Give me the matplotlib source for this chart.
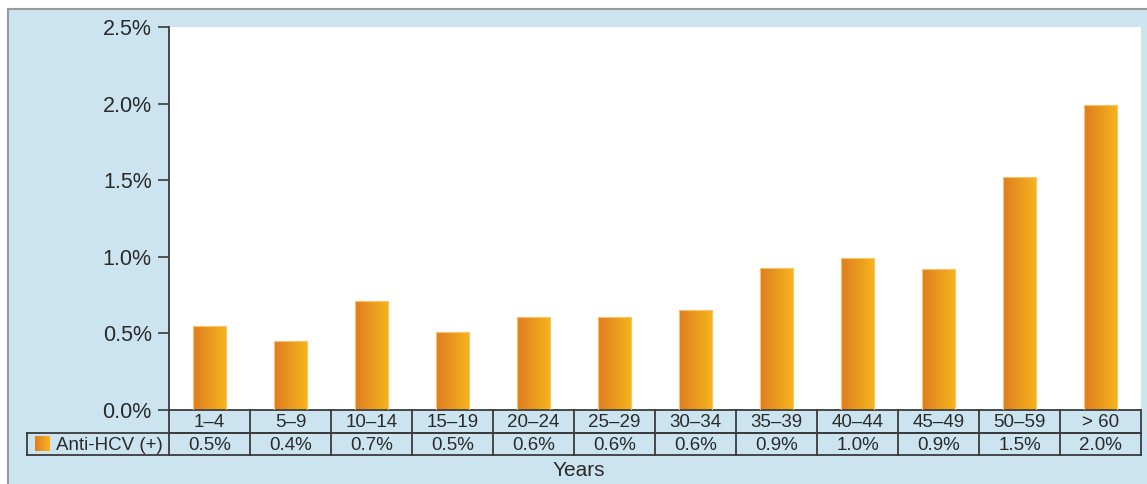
import numpy as np
import matplotlib
matplotlib.use("Agg")
import matplotlib.pyplot as plt
from matplotlib.patches import Rectangle
from matplotlib.transforms import blended_transform_factory

plt.rcParams['font.family'] = ['Liberation Sans', 'DejaVu Sans']

categories = ["1\u20134", "5\u20139", "10\u201314", "15\u201319", "20\u201324", "25\u201329",
              "30\u201334", "35\u201339", "40\u201344", "45\u201349", "50\u201359", "> 60"]
values = [0.55, 0.45, 0.71, 0.51, 0.61, 0.61, 0.65, 0.93, 0.99, 0.92, 1.52, 1.99]
table_labels = ["0.5%", "0.4%", "0.7%", "0.5%", "0.6%", "0.6%",
                "0.6%", "0.9%", "1.0%", "0.9%", "1.5%", "2.0%"]
yticks = [0.0, 0.5, 1.0, 1.5, 2.0, 2.5]
series_name = "Anti-HCV (+)"
xlabel = "Years"

W, H = 1147, 484
BG = "#cce4f0"
LINE = "#3a3a3a"
TXT = "#2a2a2a"
C_LEFT = np.array([0.875, 0.49, 0.125])
C_RIGHT = np.array([0.965, 0.71, 0.11])

fig = plt.figure(figsize=(W / 100, H / 100), dpi=100)
fig.patch.set_facecolor("white")
fig.patches.append(Rectangle((8 / W, -0.01), 1 - 8 / W + 0.01, 1 - 9 / H + 0.01,
                             transform=fig.transFigure, facecolor=BG,
                             edgecolor="#9a9a9a", linewidth=1.5, zorder=-5))

L, R, T, B = 169, 1141, 27, 410
ax = fig.add_axes([L / W, 1 - B / H, (R - L) / W, (B - T) / H])
ax.set_facecolor("white")
for s in ["top", "right"]:
    ax.spines[s].set_visible(False)
ax.spines["left"].set_color(LINE)
ax.spines["bottom"].set_color(LINE)
ax.spines["left"].set_linewidth(1.3)
ax.spines["bottom"].set_linewidth(1.3)

x = np.arange(len(categories))
ax.set_xlim(-0.5, len(categories) - 0.5)
ax.set_ylim(0, 2.5)
ax.set_yticks(yticks)
ax.set_yticklabels([f"{v:.1f}%" for v in yticks], fontsize=15.5, color=TXT)
ax.tick_params(axis="y", direction="out", length=8, width=1.2, color=LINE, pad=4.5)
ax.set_xticks([])

bars = ax.bar(x, values, width=0.41, color="none", edgecolor="none")
grad = np.linspace(0, 1, 64)
img = C_LEFT[None, :] * (1 - grad[:, None]) + C_RIGHT[None, :] * grad[:, None]
img = img[None, :, :]
for b in bars:
    x0, y0 = b.get_x(), b.get_y()
    w, h = b.get_width(), b.get_height()
    im = ax.imshow(img, extent=[x0, x0 + w, y0, y0 + h], aspect="auto",
                   origin="lower", zorder=2, interpolation="bilinear")
    im.set_clip_path(b)
    ax.add_patch(Rectangle((x0, y0), w, h, facecolor="none",
                           edgecolor="#f9c46a", linewidth=0.8, zorder=3))
ax.set_xlim(-0.5, len(categories) - 0.5)
ax.set_ylim(0, 2.5)

# table below the axes
tr = blended_transform_factory(ax.transData, ax.transAxes)
rowh = 22.5 / (B - T)
n = len(categories)
label_left = -0.5 - (L - 27) / ((R - L) / n)
kw = dict(transform=tr, clip_on=False, color=LINE, linewidth=1.3)
ax.plot([-0.5, n - 0.5], [-rowh, -rowh], **kw)
ax.plot([label_left, n - 0.5], [-rowh, -rowh], **kw)
ax.plot([label_left, n - 0.5], [-2 * rowh, -2 * rowh], **kw)
for i in range(n + 1):
    ax.plot([i - 0.5, i - 0.5], [0, -2 * rowh], **kw)
ax.plot([label_left, label_left], [-rowh, -2 * rowh], **kw)

for i in range(n):
    ax.text(x[i], -0.5 * rowh - 0.004, categories[i], transform=tr, ha="center",
            va="center", fontsize=13.5, color=TXT, clip_on=False)
    ax.text(x[i], -1.5 * rowh - 0.004, table_labels[i], transform=tr, ha="center",
            va="center", fontsize=13.5, color=TXT, clip_on=False)

# legend cell
unit = (R - L) / n
sq_l = label_left + 8 / unit
sq_w = 15 / unit
sq_b = -1.5 * rowh - 7.5 / (B - T)
sq_t = -1.5 * rowh + 7.5 / (B - T)
sq_img = ax.imshow(img, extent=[sq_l, sq_l + sq_w, sq_b, sq_t],
                   transform=tr, aspect="auto", clip_on=False, zorder=3)
ax.text(label_left + 29 / unit, -1.5 * rowh - 0.004, series_name, transform=tr,
        ha="left", va="center", fontsize=13.5, color=TXT, clip_on=False)

ax.set_xlim(-0.5, len(categories) - 0.5)
ax.set_ylim(0, 2.5)

fig.text(579 / W, 1 - 471 / H, xlabel, ha="center", va="center",
         fontsize=15, color=TXT)

fig.savefig("out.png", dpi=100, facecolor=fig.get_facecolor())
